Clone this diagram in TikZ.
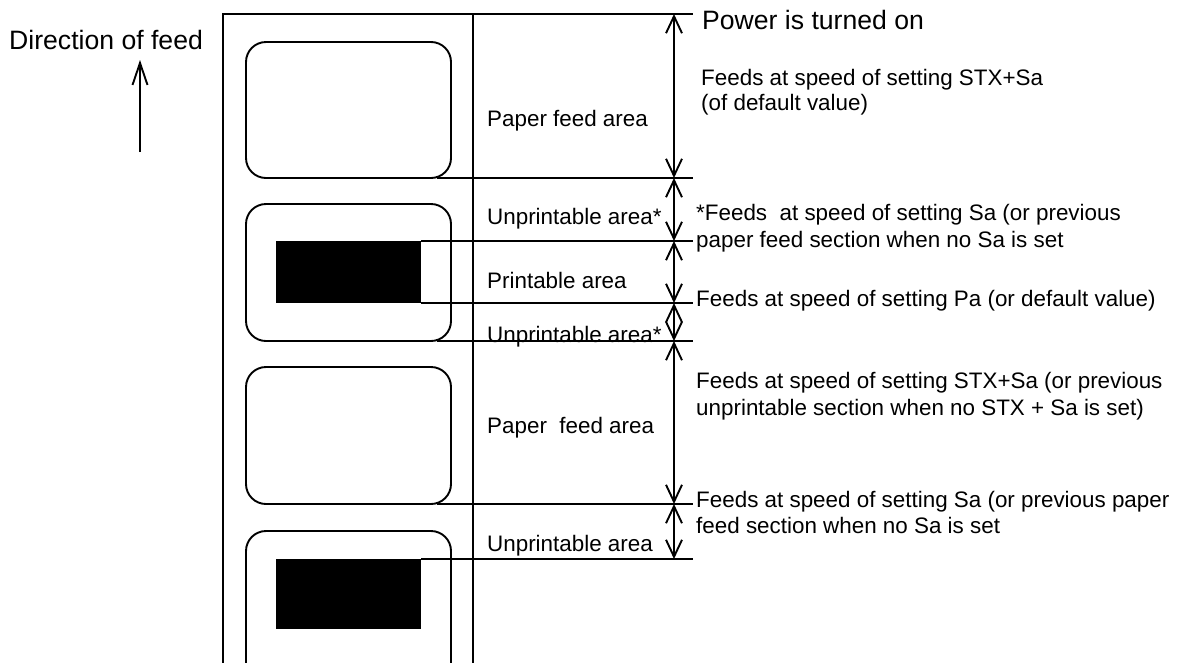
\documentclass[tikz,border=0pt]{standalone}
\usepackage{fontspec}
\setmainfont{Liberation Sans}
\usetikzlibrary{arrows.meta}
\begin{document}
\begin{tikzpicture}[x=1pt,y=-1pt,
  ln/.style={line width=1.9pt},
  dim/.style={line width=1.9pt, {Straight Barb[length=17pt,width=16pt]}-{Straight Barb[length=17pt,width=16pt]}},
  lab/.style={line width=1.9pt, rounded corners=20pt},
  txt/.style={anchor=base west, inner sep=0pt, font=\fontsize{22.4}{26}\selectfont},
  big/.style={anchor=base west, inner sep=0pt, font=\fontsize{26.6}{30}\selectfont}]
\useasboundingbox (0,0) rectangle (1198,662);
\clip (0,0) rectangle (1198,662);

% dimension points
\foreach \n/\y in {0/14,1/178,2/241,3/303,4/341,5/504,6/559}{
  \coordinate (d\n) at (674,\y);
  \coordinate (e\n) at (693,\y);
}

% paper frame
\draw[ln] (223,670) -- (223,14) -- (e0);
\draw[ln] (473,14) -- (473,670);

% labels
\draw[lab] (246,42) rectangle (451,178);
\draw[lab] (246,204) rectangle (451,341);
\draw[lab] (246,367) rectangle (451,504);
\draw[lab] (246,531) rectangle (451,700);

% printed (black) areas
\coordinate (b1nw) at (276,241); \coordinate (b1se) at (421,303);
\coordinate (b2nw) at (276,559); \coordinate (b2se) at (421,629);
\fill (b1nw) rectangle (b1se);
\fill (b2nw) rectangle (b2se);
\coordinate (b1ne) at (421,241);
\coordinate (b2ne) at (421,559);

% boundary lines
\coordinate (s1) at (437,178);
\coordinate (s4) at (437,341);
\coordinate (s5) at (437,504);
\draw[ln] (s1) -- (e1);
\draw[ln] (b1ne) -- (e2);
\draw[ln] (b1se) -- (e3);
\draw[ln] (s4) -- (e4);
\draw[ln] (s5) -- (e5);
\draw[ln] (b2ne) -- (e6);

% dimension arrows
\draw[dim] (d0) -- (d1);
\draw[dim] (d1) -- (d2);
\draw[dim] (d2) -- (d3);
\draw[dim] (d3) -- (d4);
\draw[dim] (d4) -- (d5);
\draw[dim] (d5) -- (d6);

% direction of feed
\node[big] (dir) at (9,49) {Direction of feed};
\coordinate (fa) at (140,152);
\coordinate (fb) at (140,60);
\draw[line width=1.9pt, -{Straight Barb[length=22pt,width=15pt]}] (fa) -- (fb);

% area names
\node[txt] (a1) at (487,126) {Paper feed area};
\node[txt] (a2) at (487,224) {Unprintable area*};
\node[txt] (a3) at (487,288) {Printable area};
\node[txt] (a4) at (487,342) {Unprintable area*};
\node[txt] (a5) at (487,433) {Paper~ feed area};
\node[txt] (a6) at (487,551) {Unprintable area};

% descriptions
\node[big] (p0) at (702,29) {Power is turned on};
\node[txt] (t1a) at (701,85) {Feeds at speed of setting STX+Sa};
\node[txt] (t1b) at (701,110) {(of default value)};
\node[txt] (t2a) at (696,220) {*Feeds~ at speed of setting Sa (or previous};
\node[txt] (t2b) at (696,247) {paper feed section when no Sa is set};
\node[txt] (t3) at (696,306) {Feeds at speed of setting Pa (or default value)};
\node[txt] (t4a) at (696,388) {Feeds at speed of setting STX+Sa (or previous};
\node[txt] (t4b) at (696,415) {unprintable section when no STX + Sa is set)};
\node[txt] (t5a) at (696,507) {Feeds at speed of setting Sa (or previous paper};
\node[txt] (t5b) at (696,533) {feed section when no Sa is set};
\end{tikzpicture}
\end{document}
